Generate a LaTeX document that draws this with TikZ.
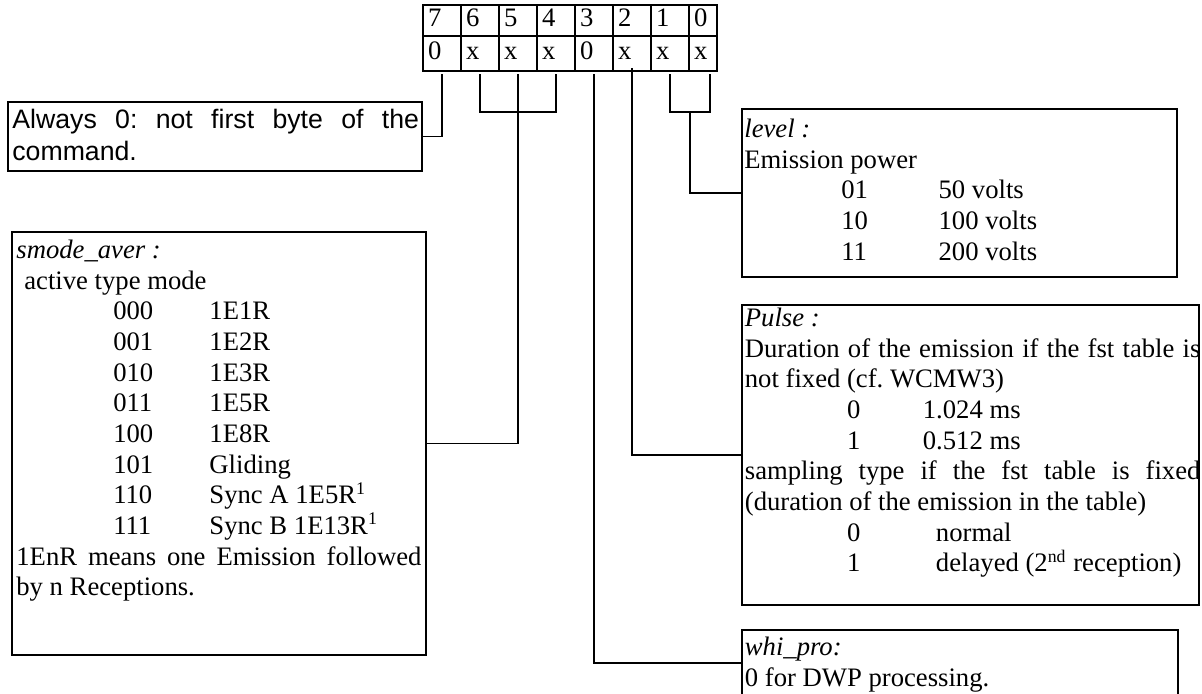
\documentclass[tikz,border=0pt]{standalone}
\usepackage{fontspec}
\setmainfont{Liberation Serif}
\newfontfamily\arialfont{Liberation Sans}
\usepackage{tikz}
\usetikzlibrary{positioning}
\setlength{\parindent}{0pt}
\frenchspacing
\newcommand{\fullline}[3][3pt]{\leavevmode\hbox to #2{\spaceskip=#1 plus 1fil minus 0.5pt\relax #3}}
\newcommand{\coderow}[4][43.6pt]{\hspace*{#1}\makebox[#2][l]{#3}#4}

\begin{document}
\begin{tikzpicture}[x=0.45pt, y=-0.45pt, line width=0.8pt,
  cell/.style={draw, anchor=north west, outer sep=0pt, inner xsep=2.25pt, inner ysep=0pt,
    text width=12.6pt, align=left, font=\fontsize{12}{14}\selectfont},
  frame/.style={draw, anchor=north west, outer sep=0pt, inner sep=0pt},
  note/.style={anchor=north west, inner sep=0pt, font=\fontsize{12}{13.8}\selectfont,
    execute at begin node={\spaceskip=3pt plus 1pt minus 0.5pt\relax}}]
  \useasboundingbox (0,0) rectangle (1202,694);

  \foreach \b/\v [count=\k from 0] in {7/0,6/x,5/x,4/x,3/0,2/x,1/x} {
    \node[cell, minimum height=13.7pt] (b\b) at (423+38*\k,5) {\strut\b};
    \node[cell, minimum height=16pt] (v\b) at (423+38*\k,35.5) {\strut\v};
  }
  \node[cell, minimum height=13.7pt, text width=8.1pt] (b0) at (689,5) {\strut 0};
  \node[cell, minimum height=16pt, text width=8.1pt] (v0) at (689,35.5) {\strut x};

  \node[frame, minimum width=186.3pt, minimum height=31.05pt] (always) at (8,102) {};
  \node[frame, minimum width=186.3pt, minimum height=190.35pt] (smode) at (12,232) {};
  \node[frame, minimum width=195.75pt, minimum height=75.6pt] (level) at (742,109) {};
  \node[frame, minimum width=205.7pt, minimum height=135pt] (pulse) at (742,305) {};
  \node[frame, minimum width=196.2pt, minimum height=29.7pt] (whipro) at (742,630) {};

  \node[note, text width=183pt, font=\arialfont\fontsize{12}{14.2}\selectfont] (alwaystxt) at (11.5,106)
    {\strut\fullline[3.3pt]{183pt}{Always 0: not first byte of the}\\command.};
  \node[note, text width=182.3pt] (smodetxt) at (15.5,236) {\strut\textit{smode\_aver :}\\
    \hspace*{3.6pt}active type mode\\
    \coderow{43.3pt}{000}{1E1R}\\
    \coderow{43.3pt}{001}{1E2R}\\
    \coderow{43.3pt}{010}{1E3R}\\
    \coderow{43.3pt}{011}{1E5R}\\
    \coderow{43.3pt}{100}{1E8R}\\
    \coderow{43.3pt}{101}{Gliding}\\
    \coderow{43.3pt}{110}{Sync A 1E5R\textsuperscript{1}}\\
    \coderow{43.3pt}{111}{Sync B 1E13R\textsuperscript{1}}\\
    \fullline{182.3pt}{1EnR means one Emission followed}\\
    by n Receptions.};
  \node[note, text width=193.5pt] (leveltxt) at (743.5,115) {\strut\textit{level :}\\
    Emission power\\
    \coderow{43.8pt}{01}{50 volts}\\
    \coderow{43.8pt}{10}{100 volts}\\
    \coderow{43.8pt}{11}{200 volts}};
  \node[note, text width=205pt] (pulsetxt) at (744,304) {\strut\textit{Pulse :}\\
    \fullline{205pt}{Duration of the emission if the fst table is}\\
    not fixed (cf. WCMW3)\\
    \coderow[46pt]{34.1pt}{0}{1.024 ms}\\
    \coderow[46pt]{34.1pt}{1}{0.512 ms}\\
    \fullline{205pt}{sampling type if the fst table is fixed}\\
    (duration of the emission in the table)\\
    \coderow[46pt]{40pt}{0}{normal}\\
    \coderow[46pt]{40pt}{1}{delayed (2\textsuperscript{nd} reception)}};
  \node[note, text width=190pt] (whiprotxt) at (744,633) {\strut\textit{whi\_pro:}\\
    0 for DWP processing.};

  \draw ([yshift=-1.4pt]v7.south) |- (always.east);
  \draw ([yshift=-1.4pt]v6.south) -- ++(0,38) -| ([yshift=-1.4pt]v4.south);
  \draw ([yshift=-1.4pt]v5.south) |- (smode.east);
  \draw ([yshift=-1.4pt]v3.south) |- (whipro.west);
  \draw ([yshift=1.4pt]v2.south) |- (pulse.west);
  \draw ([yshift=-1.4pt]v1.south) -- ++(0,38) -| node[coordinate, pos=0.25] (lvl) {} ([xshift=3.15pt,yshift=-1.4pt]v0.south);
  \draw (lvl) |- (level.west);
\end{tikzpicture}
\end{document}
